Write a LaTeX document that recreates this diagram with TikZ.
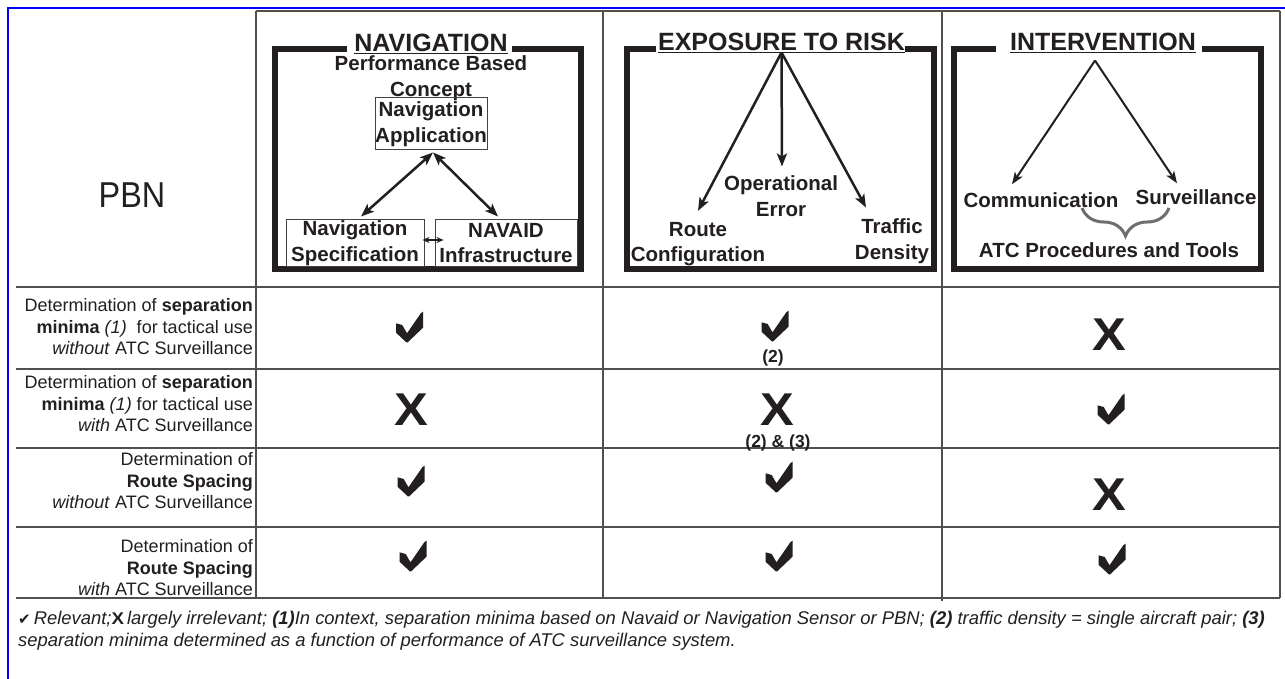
\documentclass[tikz,border=0pt]{standalone}
\usepackage{fontspec}
\setmainfont{Liberation Sans}
\newfontfamily\symfont{DejaVu Sans}
\newfontfamily\pbnfont[FakeStretch=0.9]{Liberation Sans}
\newfontfamily\crossfont[FakeStretch=1.1]{Liberation Sans}
\usetikzlibrary{arrows.meta,decorations.pathreplacing,calc}
\definecolor{ink}{HTML}{231F20}
\definecolor{rulegray}{HTML}{505050}
\definecolor{frameblue}{RGB}{0,0,255}
\definecolor{bracegray}{HTML}{6E6E6E}

\begin{document}
\begin{tikzpicture}[x=1pt,y=-1pt,
  every node/.style={text=ink, inner sep=0pt},
  grid/.style={draw=rulegray, line width=1.2pt},
  panel/.style={draw=ink, line width=6pt, line join=miter, line cap=butt},
  paneltitle/.style={font=\bfseries\fontsize{25}{30}\selectfont, anchor=base},
  titlerule/.style={draw=ink, line width=1.5pt},
  concept/.style={font=\bfseries\fontsize{20.5}{25.5}\selectfont, align=center},
  thinbox/.style={draw=ink!85, line width=1pt},
  rowlabel/.style={font=\fontsize{18}{21.5}\selectfont, align=right, anchor=east},
  note/.style={font=\bfseries\fontsize{17.5}{20}\selectfont},
  crossmark/.style={font=\crossfont\bfseries\fontsize{46}{46}\selectfont},
  heavytip/.tip={Stealth[length=13pt,width=10pt,inset=3pt]},
  lighttip/.tip={Stealth[length=12pt,width=9pt,inset=3pt]},
  smalltip/.tip={Stealth[length=7pt,width=6pt]},
  link/.style={draw=ink, line width=2.5pt, -{heavytip}},
  thinlink/.style={draw=ink, line width=2pt, -{lighttip}},
  bilink/.style={draw=ink, line width=2.5pt, {heavytip}-{heavytip}},
  smallbilink/.style={draw=ink, line width=2pt, {smalltip}-{smalltip}},
  tick/.pic={\fill[ink] (-13.5,-3.7) -- (-7.3,-2) -- (-2.5,6.3) -- (11.3,-13.7)
      -- (13.5,-15.3) -- (13.5,0.7) -- (-1.8,15.3) -- (-3.2,15.3) -- (-13.5,5.7) -- cycle;}
]
\useasboundingbox (0,0) rectangle (1285,679);
\fill[white] (0,0) rectangle (1285,679);

% outer blue frame (top and left edges)
\draw[frameblue, line width=2.2pt] (8,679) -- (8,8) -- (1285,8);

% table rules
\draw[grid] (256,11) -- (1280,11);
\foreach \yy in {287,369,448,527,598} \draw[grid] (16,\yy) -- (1280,\yy);
\draw[grid] (256,11) -- (256,598);
\draw[grid] (603,11) -- (603,598);
\draw[grid] (942,11) -- (942,601);
\draw[grid] (1280,11) -- (1280,598);

% row header of the first line
\node[font=\pbnfont\fontsize{36}{40}\selectfont] (pbn) at (132,195) {PBN};

% ---------- NAVIGATION panel ----------
\draw[panel] (347,49) -- (275,49) -- (275,269) -- (581,269) -- (581,49) -- (512,49);
\node[paneltitle] (navtitle) at (431,51.5) {NAVIGATION};
\draw[titlerule] ($(navtitle.base west)+(0,2)$) -- ($(navtitle.base east)+(0,2)$);
\node[concept] (pbc) at (431,78) {Performance Based\\Concept};
\node[concept, thinbox, minimum width=112pt, minimum height=52pt] (navapp) at (431,124) {Navigation\\Application};
\node[concept, thinbox, minimum width=138pt, minimum height=46pt] (spec) at (355,243) {Navigation\\Specification};
\node[concept, thinbox, minimum width=142pt, minimum height=46pt] (navaid) at (506,243) {NAVAID\\Infrastructure};
\draw[bilink] ($(navapp.south)+(2,2)$) -- ($(spec.north)+(6,-3)$);
\draw[bilink] ($(navapp.south)+(2,2)$) -- ($(navaid.north)+(-8,-3)$);
\draw[smallbilink] ($(spec.east)+(-2,-3)$) -- ($(navaid.west)+(9,-3)$);

% ---------- EXPOSURE TO RISK panel ----------
\draw[panel] (656,49) -- (627,49) -- (627,269) -- (934,269) -- (934,49) -- (905,49);
\node[paneltitle] (exptitle) at (781.5,50.5) {EXPOSURE TO RISK};
\draw[titlerule] ($(exptitle.base west)+(0,2)$) -- ($(exptitle.base east)+(0,2)$);
\node[concept] (operr) at (781,196) {Operational\\Error};
\node[concept] (route) at (698,244) {Route\\Configuration};
\node[concept] (traffic) at (892,241) {Traffic\\Density};
\coordinate (expapex) at ($(exptitle.base)+(0,2)$);
\draw[link] (expapex) -- ($(route.north)+(0,-11)$);
\draw[link] (expapex) -- ($(operr.north)+(1,-9)$);
\draw[link] (expapex) -- ($(traffic.north)+(-26,-11)$);

% ---------- INTERVENTION panel ----------
\draw[panel] (996,49) -- (954,49) -- (954,269) -- (1261,269) -- (1261,49) -- (1202,49);
\node[paneltitle] (inttitle) at (1103,50.5) {INTERVENTION};
\draw[titlerule] ($(inttitle.base west)+(0,2)$) -- ($(inttitle.base east)+(0,2)$);
\node[concept] (comm) at (1041,200) {Communication};
\node[concept] (surv) at (1196,197) {Surveillance};
\node[concept] (atc) at (1109,250) {ATC Procedures and Tools};
\coordinate (intapex) at ($(inttitle.base)+(-8,10)$);
\draw[thinlink] (intapex) -- ($(comm.north)+(-29,-8)$);
\draw[thinlink] (intapex) -- ($(surv.north)+(-19,-6)$);
\draw[bracegray, line width=3pt, decorate, decoration={brace, mirror, amplitude=28pt}]
  (1082,208) -- (1169,208);

% ---------- row labels ----------
\node[rowlabel] (r1) at (253,327) {Determination of \textbf{separation}\\\textbf{minima} \textit{(1)}\ \ for tactical use\\\textit{without} ATC Surveillance};
\node[rowlabel] (r2) at (253,404) {Determination of \textbf{separation}\\\textbf{minima} \textit{(1)} for tactical use\\\textit{with} ATC Surveillance};
\node[rowlabel] (r3) at (253,481) {Determination of\\\textbf{Route Spacing}\\\textit{without} ATC Surveillance};
\node[rowlabel] (r4) at (253,568) {Determination of\\\textbf{Route Spacing}\\\textit{with} ATC Surveillance};

% ---------- assessment marks ----------
\pic at (409.5,327) {tick};
\pic at (775,326) {tick};
\node[note] (n1) at (773,358) {(2)};
\node[crossmark] (c13) at (1109,335) {X};

\node[crossmark] (c21) at (411,410) {X};
\node[crossmark] (c22) at (777,410) {X};
\node[note] (n2) at (778,443) {(2) \& (3)};
\pic at (1111,409) {tick};

\pic at (411,481) {tick};
\pic at (779,477) {tick};
\node[crossmark] (c33) at (1109,495) {X};

\pic at (413,556) {tick};
\pic at (779,556) {tick};
\pic at (1112,559) {tick};

% ---------- footnote ----------
\node[anchor=base west, align=left, font=\fontsize{18.4}{22}\selectfont] (foot) at (18,646)
 {{\symfont\fontsize{15}{15}\selectfont ✔}\,\textit{Relevant;}{\crossfont\bfseries\fontsize{17}{17}\selectfont X}\,\textit{largely irrelevant;} \textbf{\textit{(1)}}\textit{In context, separation minima based on Navaid or Navigation Sensor or PBN;} \textbf{\textit{(2)}} \textit{traffic density = single aircraft pair;} \textbf{\textit{(3)}}\\
 \textit{separation minima determined as a function of performance of ATC surveillance system.}};
\end{tikzpicture}
\end{document}
